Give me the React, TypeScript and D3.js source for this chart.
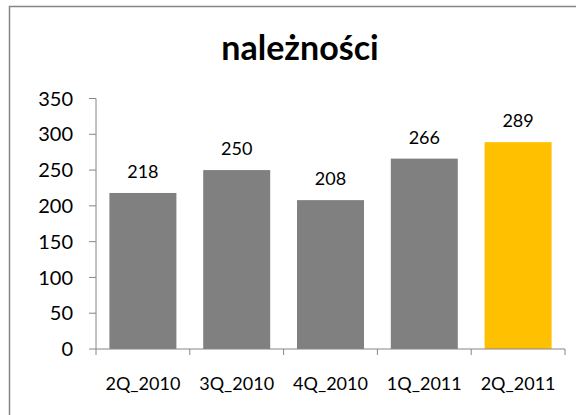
import React from "react";
import * as d3 from "d3";

const categories = ["2Q_2010", "3Q_2010", "4Q_2010", "1Q_2011", "2Q_2011"];
const values = [218, 250, 208, 266, 289];
const barColors = ["#808080", "#808080", "#808080", "#808080", "#FFC000"];
const yTicks = [0, 50, 100, 150, 200, 250, 300, 350];
const title = "należności";

const W = 576;
const H = 415;
const FONT = "Lato, Carlito, Calibri, sans-serif";
const AXIS = "#868686";

export default function App() {
  const x = d3
    .scaleBand<string>()
    .domain(categories)
    .range([96, 565])
    .paddingInner(0.2857)
    .paddingOuter(0.1429);
  const y = d3.scaleLinear().domain([0, 350]).range([349, 98.5]);
  const step = x.step();
  const x0 = 96;

  return (
    <svg
      width={W}
      height={H}
      style={{ position: "absolute", left: 0, top: 0, display: "block" }}
      fontFamily={FONT}
    >
      <rect x={0} y={0} width={W} height={H} fill="#fff" />
      {/* chart border (left + top visible) */}
      <path d={`M9.5,${H + 5} L9.5,6.5 L${W + 5},6.5`} fill="none" stroke={AXIS} strokeWidth={1.5} />
      <text x={300} y={60} textAnchor="middle" fontSize={34} fontWeight="bold" fill="#000">
        {title}
      </text>
      {/* bars */}
      {values.map((v, i) => (
        <rect
          key={categories[i]}
          x={x(categories[i])}
          y={y(v)}
          width={x.bandwidth()}
          height={y(0) - y(v)}
          fill={barColors[i]}
        />
      ))}
      {/* data labels */}
      {values.map((v, i) => (
        <text
          key={"l" + i}
          x={(x(categories[i]) as number) + x.bandwidth() / 2}
          y={y(v) - 15}
          textAnchor="middle"
          fontSize={18}
          fill="#000"
        >
          {v}
        </text>
      ))}
      {/* y axis */}
      <line x1={x0} x2={x0} y1={y(350)} y2={y(0)} stroke={AXIS} strokeWidth={1} />
      {yTicks.map((t) => (
        <g key={"yt" + t}>
          <line x1={89} x2={x0} y1={y(t)} y2={y(t)} stroke={AXIS} strokeWidth={1} />
          <text x={73} y={y(t)} dy="0.36em" textAnchor="end" fontSize={20} fill="#000">
            {t}
          </text>
        </g>
      ))}
      {/* x axis */}
      <line x1={x0} x2={565} y1={y(0)} y2={y(0)} stroke={AXIS} strokeWidth={1} />
      {d3.range(categories.length + 1).map((i) => (
        <line
          key={"xt" + i}
          x1={x0 + i * step}
          x2={x0 + i * step}
          y1={y(0)}
          y2={y(0) + 6}
          stroke={AXIS}
          strokeWidth={1}
        />
      ))}
      {categories.map((c) => (
        <text
          key={"xl" + c}
          x={(x(c) as number) + x.bandwidth() / 2}
          y={390}
          textAnchor="middle"
          fontSize={18}
          fill="#000"
        >
          {c}
        </text>
      ))}
    </svg>
  );
}
